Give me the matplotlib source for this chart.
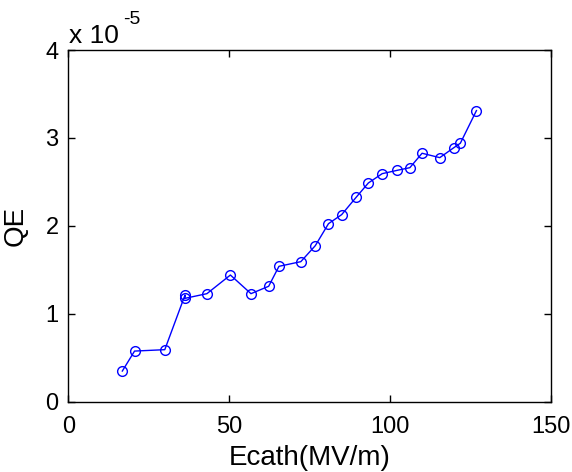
import matplotlib
matplotlib.use("Agg")
import matplotlib.pyplot as plt

plt.rcParams['font.family'] = ['Liberation Sans', 'DejaVu Sans']

# Data (QE in units of 1e-5)
ecath = [16.8, 20.6, 30.0, 36.3, 36.3, 43.1, 50.4, 56.8, 62.3, 65.5, 72.3, 76.8,
         80.9, 85.0, 89.5, 93.3, 97.6, 102.3, 106.2, 110.0, 115.5, 119.9, 121.9, 126.9]
qe = [0.349, 0.576, 0.592, 1.214, 1.176, 1.229, 1.441, 1.229, 1.313, 1.540, 1.593, 1.775,
      2.025, 2.128, 2.325, 2.488, 2.594, 2.632, 2.662, 2.826, 2.776, 2.890, 2.940, 3.311]
xticks = [0, 50, 100, 150]
yticks = [0, 1, 2, 3, 4]

W, H = 572, 472
fig = plt.figure(figsize=(W / 100, H / 100), dpi=100)
ax = fig.add_axes([0.1194, 0.1489, 0.9628 - 0.1194, 0.894 - 0.1489])
ax.plot(ecath, qe, '-o', color='#0000ff', lw=1.0, markersize=7,
        markerfacecolor='none', markeredgewidth=1.0)
ax.set_xlim(0, 150)
ax.set_ylim(0, 4)
ax.set_xticks(xticks)
ax.set_yticks(yticks)
ax.tick_params(direction='in', top=True, right=True, length=5, width=1,
               labelsize=17)
ax.tick_params(axis='x', pad=10)
ax.tick_params(axis='y', pad=7)
for s in ax.spines.values():
    s.set_linewidth(1.0)
ax.set_xlabel('Ecath(MV/m)', fontsize=20, labelpad=5)
ax.set_ylabel('QE', fontsize=20, labelpad=12)
fig.text(69 / W, 1 - 43 / H, 'x 10', fontsize=19, ha='left', va='baseline')
fig.text(123 / W, 1 - 24 / H, '-5', fontsize=14, ha='left', va='baseline')
fig.savefig('out.png', dpi=100)
